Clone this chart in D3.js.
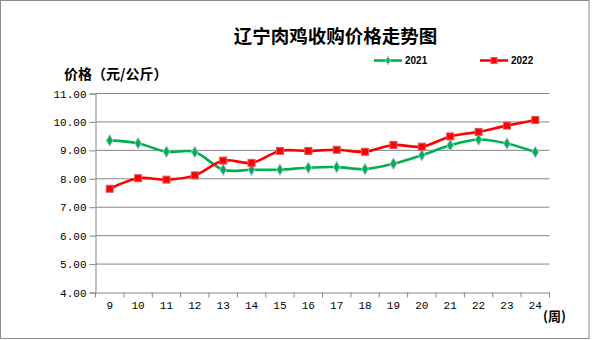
<!DOCTYPE html>
<html><head><meta charset="utf-8">
<script src="https://cdn.jsdelivr.net/npm/d3@7"></script>
<style>
html,body{margin:0;padding:0;background:#fff;}
svg{display:block;}
</style>
</head><body>
<svg id="chart" width="592" height="340"></svg>
<script>
const weeks = [9,10,11,12,13,14,15,16,17,18,19,20,21,22,23,24];
const series2021 = [9.35,9.25,8.95,8.94,8.32,8.32,8.32,8.39,8.41,8.34,8.53,8.83,9.18,9.38,9.24,8.94];
const series2022 = [7.65,8.02,7.97,8.12,8.64,8.56,8.98,8.98,9.02,8.95,9.19,9.13,9.49,9.65,9.87,10.07];
const yTicks = [4,5,6,7,8,9,10,11];
const seriesNames = ["2021","2022"];
const titleText = "辽宁肉鸡收购价格走势图";
const yLabelText = "价格（元/公斤）";
const xUnitText = "(周)";

(function(){
const svg = d3.select("#chart");
const pL = 95.5, pR = 549.5, pT = 93.5, pB = 292.5;
const green = "#00b050", red = "#ff0000", grid = "#868686";

// outer border
svg.append("rect").attr("x",0.5).attr("y",0.5).attr("width",588.5).attr("height",338)
  .attr("fill","#fff").attr("stroke","#8c8c8c").attr("stroke-width",1);

const x = d3.scaleBand().domain(weeks).range([pL,pR]).padding(0);
const y = d3.scaleLinear().domain([4,11]).range([pB,pT]);

// grid
svg.append("g").selectAll("line").data(yTicks.filter(d=>d>4)).join("line")
  .attr("x1",pL).attr("x2",pR).attr("y1",d=>y(d)).attr("y2",d=>y(d))
  .attr("stroke",grid).attr("stroke-width",1);

// y axis
const yAxis = svg.append("g").attr("transform",`translate(${pL},0)`)
  .call(d3.axisLeft(y).tickValues(yTicks).tickFormat(d3.format(".2f")).tickSize(6).tickPadding(3));
yAxis.select(".domain").attr("stroke",grid);
yAxis.selectAll(".tick line").attr("stroke",grid);
yAxis.selectAll("text").attr("font-family","'Liberation Mono', monospace").attr("font-size","11px").attr("fill","#000");

// x axis
const xAxis = svg.append("g").attr("transform",`translate(0,${pB})`)
  .call(d3.axisBottom(x).tickSize(0).tickPadding(9));
xAxis.select(".domain").attr("stroke",grid);
xAxis.selectAll("text").attr("font-family","'Liberation Mono', monospace").attr("font-size","11px").attr("fill","#000");
// category separator ticks
const sep = weeks.map(d=>x(d)).concat([pR]);
svg.append("g").selectAll("line").data(sep).join("line")
  .attr("x1",d=>d).attr("x2",d=>d)
  .attr("y1",pB).attr("y2",pB+5).attr("stroke",grid);

const cx = d => x(d) + x.bandwidth()/2;
const line = d3.line().x((d,i)=>cx(weeks[i])).y(d=>y(d)).curve(d3.curveCardinal.tension(0));

svg.append("path").datum(series2021).attr("d",line).attr("fill","none").attr("stroke",green).attr("stroke-width",2.6);
svg.append("path").datum(series2022).attr("d",line).attr("fill","none").attr("stroke",red).attr("stroke-width",2.6);

const diamond = d3.symbol().type(d3.symbolDiamond).size(40);
svg.append("g").selectAll("path").data(series2021).join("path")
  .attr("d",diamond).attr("transform",(d,i)=>`translate(${cx(weeks[i])},${y(d)})`)
  .attr("fill",green).attr("stroke","#b4c7e7").attr("stroke-width",1);
svg.append("g").selectAll("rect").data(series2022).join("rect")
  .attr("x",(d,i)=>cx(weeks[i])-3.5).attr("y",d=>y(d)-3.5).attr("width",7).attr("height",7)
  .attr("fill",red).attr("stroke","#d9595b").attr("stroke-width",1);

// title
svg.append("text").text(titleText).attr("x",335.5).attr("y",35).attr("text-anchor","middle")
  .attr("dominant-baseline","central").attr("font-family","'Noto Sans CJK SC', sans-serif")
  .attr("font-weight","bold").attr("font-size","18.5px").attr("fill","#000");

// y label
svg.append("text").text(yLabelText).attr("x",64).attr("y",72.5)
  .attr("dominant-baseline","central").attr("font-family","'Noto Sans CJK SC', sans-serif")
  .attr("font-weight","bold").attr("font-size","14px").attr("fill","#000");

// x unit
svg.append("text").text(xUnitText).attr("x",543).attr("y",315)
  .attr("dominant-baseline","central").attr("font-family","'Noto Sans CJK SC', sans-serif")
  .attr("font-weight","bold").attr("font-size","13px").attr("fill","#000");

// legend
const legend = [
  {name:seriesNames[0], color:green, x0:374, type:"diamond"},
  {name:seriesNames[1], color:red, x0:480, type:"square"}
];
const lg = svg.append("g");
legend.forEach(l=>{
  lg.append("line").attr("x1",l.x0).attr("x2",l.x0+28).attr("y1",60.5).attr("y2",60.5)
    .attr("stroke",l.color).attr("stroke-width",2.6);
  if(l.type==="diamond"){
    lg.append("path").attr("d",d3.symbol().type(d3.symbolDiamond).size(22)())
      .attr("transform",`translate(${l.x0+14},60.5)`).attr("fill",l.color).attr("stroke","#b4c7e7").attr("stroke-width",1);
  } else {
    lg.append("rect").attr("x",l.x0+11).attr("y",57.5).attr("width",6).attr("height",6)
      .attr("fill",l.color).attr("stroke","#d9595b").attr("stroke-width",1);
  }
  lg.append("text").text(l.name).attr("x",l.x0+31).attr("y",60.5).attr("dominant-baseline","central")
    .attr("font-family","'Liberation Sans', Arial, sans-serif").attr("font-weight","bold").attr("font-size","10px").attr("fill","#000");
});
})();
</script>
</body></html>
